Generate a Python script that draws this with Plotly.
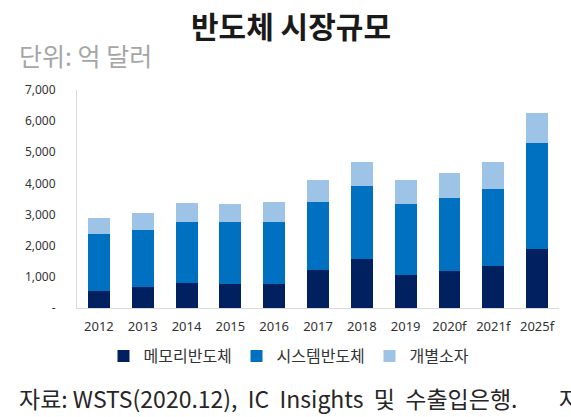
import plotly.graph_objects as go

# Semiconductor market size (unit: 100 million USD)
years = ["2012", "2013", "2014", "2015", "2016", "2017", "2018", "2019", "2020f", "2021f", "2025f"]
memory = [560, 670, 810, 780, 770, 1230, 1580, 1070, 1190, 1340, 1900]
system = [1820, 1830, 1960, 1970, 2000, 2170, 2350, 2260, 2340, 2490, 3400]
discrete = [520, 550, 590, 580, 620, 720, 760, 790, 800, 860, 970]

y_ticks = [0, 1000, 2000, 3000, 4000, 5000, 6000, 7000]
y_tick_labels = ["-", "1,000", "2,000", "3,000", "4,000", "5,000", "6,000", "7,000"]

COLORS = {
    "memory": "#002060",
    "system": "#0070C0",
    "discrete": "#9DC3E6",
    "axis": "#D9D9D9",
    "text": "#262626",
}
FONT = "Noto Sans CJK KR"
W, H = 571, 417
M = {"l": 77, "r": 12, "t": 90, "b": 109}

fig = go.Figure()
for name, vals, key in [
    ("메모리반도체", memory, "memory"),
    ("시스템반도체", system, "system"),
    ("개별소자", discrete, "discrete"),
]:
    fig.add_trace(go.Bar(name=name, x=years, y=vals, marker_color=COLORS[key],
                         marker_line_width=0))

fig.update_layout(
    barmode="stack",
    bargap=0.5,
    width=W,
    height=H,
    plot_bgcolor="white",
    paper_bgcolor="white",
    margin={**M, "pad": 0, "autoexpand": False},
    font={"family": FONT, "color": COLORS["text"]},
    xaxis={
        "showgrid": False,
        "showline": True,
        "linecolor": COLORS["axis"],
        "linewidth": 1,
        "tickfont": {"family": "Noto Sans", "size": 13, "color": "#333333"},
        "ticklabelstandoff": 6,
        "tickangle": 0,
    },
    yaxis={
        "range": [0, 7000],
        "tickvals": y_ticks,
        "ticktext": y_tick_labels,
        "showgrid": False,
        "zeroline": False,
        "showline": True,
        "linecolor": COLORS["axis"],
        "linewidth": 1,
        "tickfont": {"family": "Noto Sans", "size": 12, "color": "#333333"},
        "ticklabelstandoff": 18,
    },
    legend={
        "orientation": "h",
        "x": 0.055,
        "xanchor": "left",
        "y": 1 - 356 / H,
        "yref": "container",
        "yanchor": "middle",
        "font": {"family": FONT, "size": 16, "color": "#333333"},
        "entrywidth": 88,
        "traceorder": "normal",
    },
)

# page-level texts placed in pixel terms
plot_w = W - M["l"] - M["r"]
plot_h = H - M["t"] - M["b"]


def px_x(px):
    return (px - M["l"]) / plot_w


def px_y(py):
    return (H - M["b"] - py) / plot_h


texts = [
    ("<b>반도체 시장규모</b>", 291, 25, "center", 30, "#1A1A1A"),
    ("단위: 억 달러", 17, 55, "left", 25, "#A6A6A6"),
    ("자료: WSTS(2020.12),&nbsp;&nbsp;IC&nbsp;&nbsp;Insights&nbsp;&nbsp;및&nbsp;&nbsp;수출입은행.", 17, 398, "left", 23, "#262626"),
    ("자", 557, 398, "left", 23, "#262626"),
]
for text, x, y, anchor, size, color in texts:
    fig.add_annotation(text=text, x=px_x(x), y=px_y(y), xref="paper", yref="paper",
                       xanchor=anchor, yanchor="middle", showarrow=False,
                       font={"family": FONT, "size": size, "color": color})

# drop the browser's default body margin so the figure sits at the page origin
fig.write_html("out.html", config={"displayModeBar": False},
               post_script="document.body.style.margin='0';")
